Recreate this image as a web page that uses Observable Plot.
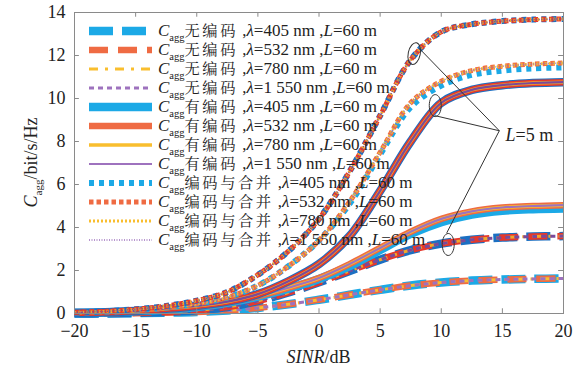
<!DOCTYPE html>
<html><head><meta charset="utf-8">
<script src="https://cdn.jsdelivr.net/npm/d3@7"></script>
<script src="https://cdn.jsdelivr.net/npm/@observablehq/plot@0.6"></script>
<style>
html,body{margin:0;padding:0;background:#fff;}
#chart{width:587px;height:371px;position:relative;}
#chart svg text, #chart svg tspan{font-family:'Liberation Serif' !important;}
#chart svg tspan.cjk{font-family:'Noto Serif CJK SC' !important;}
</style></head><body><div id="chart"></div>
<script>
// ---- data ----
const sinr = [-20,-17.5,-15,-12.5,-10,-7.5,-5,-2.5,0,2.5,5,7.5,10,12.5,15,17.5,20];
const wavelengths = ["405", "532", "780", "1 550"];
const schemes = ["无编码", "有编码", "编码与合并"];

const uncodedL5  = [0,0.01,0.03,0.07,0.15,0.3,0.58,0.98,1.45,1.98,2.5,2.95,3.25,3.43,3.53,3.58,3.6];
const uncodedL60 = [0,0.005,0.015,0.035,0.07,0.14,0.26,0.43,0.64,0.87,1.1,1.3,1.44,1.53,1.58,1.61,1.63];
const codedL5    = [0.03,0.06,0.12,0.22,0.35,0.55,0.9,1.5,2.3,3.6,5.7,8.0,9.8,10.4,10.62,10.72,10.76];
const codedL60_405 = [0.02,0.05,0.1,0.18,0.3,0.5,0.78,1.15,1.6,2.2,2.95,3.7,4.25,4.6,4.78,4.85,4.88];
const codedL60   = [0.02,0.05,0.1,0.18,0.3,0.5,0.8,1.2,1.65,2.3,3.05,3.8,4.4,4.75,4.93,5.0,5.04];
const combL5     = [0.05,0.1,0.2,0.35,0.6,1.0,1.8,2.9,4.4,6.6,9.2,11.8,13.1,13.45,13.6,13.67,13.7];
const combL60_405 = [0.04,0.08,0.15,0.28,0.45,0.75,1.3,2.2,3.4,5.1,7.4,9.6,10.6,11.1,11.3,11.4,11.45];
const combL60    = [0.04,0.08,0.15,0.28,0.45,0.75,1.3,2.2,3.4,5.2,7.5,9.8,10.8,11.3,11.5,11.6,11.65];

const xTicks = [-20,-15,-10,-5,0,5,10,15,20];
const yTicks = [0,2,4,6,8,10,12,14];

// annotation (data units)
const annoApex = [{x:14.75, y:8.5}];
const annoTargets = [{x:8.2, y:12.33},{x:9.5, y:9.2},{x:10.45, y:3.75}];
const ellipses = [{x:7.79, y:12.09, rot:12},{x:9.51, y:9.67, rot:0},{x:10.57, y:3.21, rot:0}];
const annoLabel = {x:15.3, y:8.28, text:"=5 m"};

// ---- series table ----
const seriesValues = {
  "无编码": {5: [uncodedL5, uncodedL5, uncodedL5, uncodedL5], 60: [uncodedL60, uncodedL60, uncodedL60, uncodedL60]},
  "有编码": {5: [codedL5, codedL5, codedL5, codedL5], 60: [codedL60_405, codedL60, codedL60, codedL60]},
  "编码与合并": {5: [combL5, combL5, combL5, combL5], 60: [combL60_405, combL60, combL60, combL60]}
};

const colorsL60 = ["#1CA9E6","#EF6B43","#F9BE2E","#9E72BE"];
const colorsL5  = ["#1B6FC2","#E5382C","#F2A72A","#7A4A9A"];
const styles = {
  "无编码": [{w:8.5,dash:"24 9"},{w:6.5,dash:"19 10"},{w:3,dash:"9 7 3 7"},{w:3,dash:"5 4"}],
  "有编码": [{w:8.5},{w:6.5},{w:3.5},{w:2.2}],
  "编码与合并": [{w:6,dash:"5 5"},{w:5,dash:"4.5 3"},{w:3,dash:"2 2"},{w:1.5,dash:"1 1.5"}]
};

const lineMarks = [];
const drawOrder = [["无编码",60],["无编码",5],["有编码",60],["有编码",5],["编码与合并",60],["编码与合并",5]];
for (const [sc, L] of drawOrder) {
  wavelengths.forEach((wl, i) => {
    const vals = seriesValues[sc][L][i];
    const rows = sinr.map((x, k) => ({x, y: vals[k]}));
    const st = styles[sc][i];
    lineMarks.push(Plot.line(rows, {
      x: "x", y: "y",
      stroke: (L === 5 ? colorsL5 : colorsL60)[i],
      strokeWidth: st.w,
      strokeDasharray: st.dash,
      strokeLinecap: "butt",
      curve: "catmull-rom"
    }));
  });
}

const k = 0.5523;
const ellipseSymbol = {
  draw(ctx) {
    const rx = 6, ry = 11;
    ctx.moveTo(rx, 0);
    ctx.bezierCurveTo(rx, k*ry, k*rx, ry, 0, ry);
    ctx.bezierCurveTo(-k*rx, ry, -rx, k*ry, -rx, 0);
    ctx.bezierCurveTo(-rx, -k*ry, -k*rx, -ry, 0, -ry);
    ctx.bezierCurveTo(k*rx, -ry, rx, -k*ry, rx, 0);
    ctx.closePath();
  }
};

const fmt = d => d < 0 ? "\u2212" + Math.abs(d) : String(d);
const gray = "#8a8a8a";
const serifCss = "font-family:'Liberation Serif'";
const cjkCss = "font-family:'Noto Serif CJK SC'";

const chart = Plot.plot({
  width: 587, height: 371,
  marginLeft: 74, marginRight: 24, marginTop: 12, marginBottom: 58,
  x: {domain: [-20, 20]},
  y: {domain: [0, 14]},
  style: "font-family:'Liberation Serif';font-size:18px;color:#222;background:#fff;overflow:visible",
  marks: [
    ...lineMarks,
    Plot.frame({stroke: gray}),
    Plot.ruleX(xTicks, {y1: 0, y2: 0.22, stroke: gray}),
    Plot.ruleX(xTicks, {y1: 13.78, y2: 14, stroke: gray}),
    Plot.ruleY(yTicks, {x1: -20, x2: -19.6, stroke: gray}),
    Plot.ruleY(yTicks, {x1: 19.6, x2: 20, stroke: gray}),
    Plot.axisX(xTicks, {tickSize: 0, tickPadding: 11, tickFormat: fmt, label: null, fontSize: 18}),
    Plot.axisY(yTicks, {tickSize: 0, tickPadding: 9, label: null, fontSize: 18}),
    Plot.link(annoTargets, {x1: () => annoApex[0].x, y1: () => annoApex[0].y, x2: "x", y2: "y", stroke: "#333", strokeWidth: 1}),
    Plot.dot(ellipses, {x: "x", y: "y", rotate: "rot", symbol: ellipseSymbol, r: 5, stroke: "#333", strokeWidth: 1, fill: "none"})
  ]
});
chart.removeAttribute("font-family");
document.getElementById("chart").appendChild(chart);
d3.select(chart).selectAll("g").attr("font-family", null);
d3.select(chart).selectAll("text").attr("style", serifCss);

// ---- rich text overlays ----
const svg = d3.select(chart);
const xs = chart.scale("x"), ys = chart.scale("y");

function rich(sel, parts, size) {
  parts.forEach(p => {
    const t = sel.append("tspan").text(p.t).attr("style", p.cjk ? cjkCss : serifCss);
    if (p.i) t.attr("font-style", "italic");
    if (p.sub) t.attr("font-size", size * 0.62).attr("dy", size * 0.3);
    if (p.after) t.attr("dy", -size * 0.3);
    if (p.cjk) t.attr("class", "cjk").attr("font-size", size * 0.9).attr("letter-spacing", 2.5);
  });
}

function addText(x, y, size, anchor, transform) {
  const t = svg.append("text").attr("style", serifCss)
    .attr("text-anchor", anchor).attr("font-size", size).attr("fill", "#222");
  if (transform) t.attr("transform", transform); else t.attr("x", x).attr("y", y);
  return t;
}

// axis labels
rich(addText(xs.apply(0), 363, 18, "middle"), [{t:"SINR", i:true},{t:"/dB"}], 18);
rich(addText(0, 0, 18, "middle", `translate(37,${ys.apply(7)}) rotate(-90)`),
  [{t:"C", i:true},{t:"agg", sub:true},{t:"/bit/s/Hz", after:true}], 18);

// annotation label
rich(addText(xs.apply(annoLabel.x), ys.apply(annoLabel.y) + 6, 18, "start"), [{t:"L", i:true},{t:annoLabel.text}], 18);

// legend
const lg = svg.append("g");
let row = 0;
schemes.forEach(sc => {
  wavelengths.forEach((wl, i) => {
    const y = 31 + row * 19;
    const st = styles[sc][i];
    lg.append("line").attr("x1", 89).attr("x2", 152).attr("y1", y).attr("y2", y)
      .attr("stroke", colorsL60[i]).attr("stroke-width", st.w)
      .attr("stroke-dasharray", st.dash || null);
    rich(addText(158, y + 5, 17, "start"),
      [{t:"C", i:true},{t:"agg", sub:true},{t:sc, cjk:true, after:true},{t:" ,"},{t:"λ", i:true},{t:"=" + wl + " nm ,"},{t:"L", i:true},{t:"=60 m"}], 17);
    row++;
  });
});
</script></body></html>
